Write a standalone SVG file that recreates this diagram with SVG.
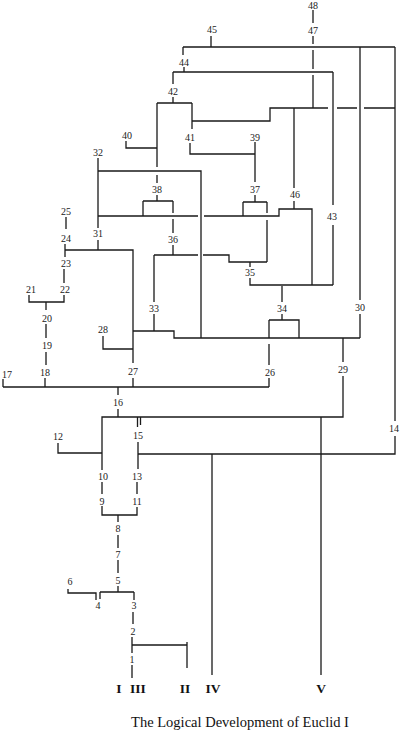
<svg xmlns="http://www.w3.org/2000/svg" width="400" height="730" viewBox="0 0 400 730">
<style>
.n{font-family:"Liberation Serif","Times New Roman",serif;font-size:10px;fill:#222;text-anchor:middle}
.r{font-family:"Liberation Serif","Times New Roman",serif;font-size:13.5px;font-weight:bold;fill:#111;text-anchor:middle}
.t{font-family:"Liberation Serif","Times New Roman",serif;font-size:14.5px;fill:#111;text-anchor:middle}
.c path{fill:none;stroke:#1a1a1a;stroke-width:1.3}
</style>
<rect width="400" height="730" fill="#fff"/>
<g id="connectors" class="c">
<path d="M313,10V23M313,36V44M313,50V69M313,75V108"/>
<path d="M211,36V47M183,47H395M183,47V55M184,67V72M173,72H333M173,72V84M173,97V103M157,103H192"/>
<path d="M157,103V167M157,175V183M126,141V148H157M192,103V129"/>
<path d="M192,121H270V108H328M337,108H357M364,108H395"/>
<path d="M333,72V205M333,225V285"/>
<path d="M360,47V300M360,314V338"/>
<path d="M395,47V421M395,436V454H138"/>
<path d="M294,108V188M294,201V209"/>
<path d="M190,143V154H255M255,142V182M255,195V202M243,202H267M243,202V216M267,202V213M267,220V262"/>
<path d="M157,195V201M143,201H173M143,201V216M173,201V213M173,219V233M173,245V255"/>
<path d="M98,158V228M98,171H201V338"/>
<path d="M98,216H198M204,216H279V209H312V285"/>
<path d="M154,255H198M203,255H229V262H267M250,262V267"/>
<path d="M154,255V302M154,314V331M133,331H174V338H360"/>
<path d="M250,278V285H333M282,286V302M282,314V320M269,320H299V338M269,320V338M269,344V365M269,378V387"/>
<path d="M3,387H269M3,379V387"/>
<path d="M98,240V250M65,250H133V363M65,244V257M66,217V229M64,269V283"/>
<path d="M29,295V302H64V295M46,302V310M46,324V338M46,352V365M45,378V387"/>
<path d="M103,336V349H133M133,378V387"/>
<path d="M343,338V362M343,376V417H102V470"/>
<path d="M118,387V395M118,409V417M137.5,417V427M140.5,417V425"/>
<path d="M138,442V469M58,443V453H102"/>
<path d="M102,482V494M137,482V494M102,506V515H137V507M118,515V522M118,535V548M118,560V573"/>
<path d="M118,586V592M100,592H134M100,592V599M134,592V600M68,589V593H96V600"/>
<path d="M133,612V624M132,637V653M132,645H187V668M187,642V645M132,665V678"/>
<path d="M212,454V675M321,417V675"/>
</g>
<g id="n48"><text class="n" x="313" y="8.5">48</text></g>
<g id="n47"><text class="n" x="313" y="33.5">47</text></g>
<g id="n45"><text class="n" x="212" y="32.5">45</text></g>
<g id="n44"><text class="n" x="184" y="65.5">44</text></g>
<g id="n42"><text class="n" x="173" y="94.5">42</text></g>
<g id="n40"><text class="n" x="127" y="139">40</text></g>
<g id="n41"><text class="n" x="190" y="140.5">41</text></g>
<g id="n39"><text class="n" x="255" y="140.5">39</text></g>
<g id="n32"><text class="n" x="98" y="156">32</text></g>
<g id="n38"><text class="n" x="157" y="192.5">38</text></g>
<g id="n37"><text class="n" x="255" y="192.5">37</text></g>
<g id="n46"><text class="n" x="295" y="198">46</text></g>
<g id="n43"><text class="n" x="332" y="220">43</text></g>
<g id="n25"><text class="n" x="66" y="214.5">25</text></g>
<g id="n24"><text class="n" x="66" y="241.5">24</text></g>
<g id="n31"><text class="n" x="98" y="237">31</text></g>
<g id="n36"><text class="n" x="173" y="242.5">36</text></g>
<g id="n23"><text class="n" x="66" y="266.5">23</text></g>
<g id="n35"><text class="n" x="250" y="276">35</text></g>
<g id="n21"><text class="n" x="31" y="293">21</text></g>
<g id="n22"><text class="n" x="65" y="293">22</text></g>
<g id="n34"><text class="n" x="282" y="311.5">34</text></g>
<g id="n33"><text class="n" x="154" y="311.5">33</text></g>
<g id="n30"><text class="n" x="360" y="310.5">30</text></g>
<g id="n20"><text class="n" x="47" y="321.5">20</text></g>
<g id="n28"><text class="n" x="103" y="333">28</text></g>
<g id="n19"><text class="n" x="47" y="349">19</text></g>
<g id="n29"><text class="n" x="343" y="372.5">29</text></g>
<g id="n26"><text class="n" x="270" y="375.5">26</text></g>
<g id="n17"><text class="n" x="7" y="377.5">17</text></g>
<g id="n18"><text class="n" x="45" y="375.5">18</text></g>
<g id="n27"><text class="n" x="133" y="374.5">27</text></g>
<g id="n16"><text class="n" x="118" y="405.5">16</text></g>
<g id="n15"><text class="n" x="138" y="438.5">15</text></g>
<g id="n12"><text class="n" x="58" y="439.5">12</text></g>
<g id="n14"><text class="n" x="394" y="431.5">14</text></g>
<g id="n10"><text class="n" x="103" y="479.5">10</text></g>
<g id="n13"><text class="n" x="137" y="479.5">13</text></g>
<g id="n9"><text class="n" x="102" y="504.5">9</text></g>
<g id="n11"><text class="n" x="137" y="504.5">11</text></g>
<g id="n8"><text class="n" x="118" y="531.5">8</text></g>
<g id="n7"><text class="n" x="118" y="557.5">7</text></g>
<g id="n6"><text class="n" x="70" y="585">6</text></g>
<g id="n5"><text class="n" x="118" y="583.5">5</text></g>
<g id="n4"><text class="n" x="98" y="609">4</text></g>
<g id="n3"><text class="n" x="134" y="609">3</text></g>
<g id="n2"><text class="n" x="133" y="634.5">2</text></g>
<g id="n1"><text class="n" x="132" y="662.5">1</text></g>
<g id="nI"><text class="r" x="119" y="692.5">I</text></g>
<g id="nIII"><text class="r" x="138" y="692.5">III</text></g>
<g id="nII"><text class="r" x="185" y="692.5">II</text></g>
<g id="nIV"><text class="r" x="213" y="692.5">IV</text></g>
<g id="nV"><text class="r" x="321" y="692.5">V</text></g>
<g id="title"><text class="t" x="240" y="727">The Logical Development of Euclid I</text></g>
</svg>
